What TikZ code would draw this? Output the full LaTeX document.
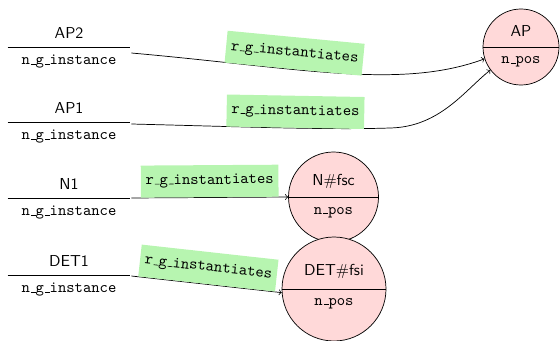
\documentclass[tikz,border=0pt]{standalone}
\usetikzlibrary{shapes.multipart,calc}
\definecolor{lblgreen}{RGB}{183,245,176}
\definecolor{posfill}{RGB}{255,217,217}
\newcommand\pxu{0.63pt}
\newcommand\usc{\leavevmode\kern.06em\vbox{\hrule width.3em}}
\begin{document}
\begin{tikzpicture}[x=\pxu,y=-\pxu,line width=0.45pt,
  inst/.style={rectangle split, rectangle split parts=2, anchor=text split,
    minimum width=122*\pxu, inner xsep=0pt, inner ysep=5pt, font=\sffamily, align=center},
  posnode/.style={circle, draw, fill=posfill, inner sep=0pt},
  ctop/.style={anchor=base, font=\sffamily, inner sep=0pt},
  cbot/.style={anchor=base, font=\ttfamily, inner sep=0pt},
  lbl/.style={fill=lblgreen, font=\ttfamily, inner xsep=3pt, inner ysep=0pt,
    minimum height=32*\pxu, sloped, above},
  arr/.style={->}]
\useasboundingbox (0,0) rectangle (560,340);

% instance nodes
\node[inst] (ap2) at (69,47) {AP2\nodepart{two}\texttt{n\usc g\usc instance}};
\node[inst] (ap1) at (69,122) {AP1\nodepart{two}\texttt{n\usc g\usc instance}};
\node[inst] (n1) at (69,198) {N1\nodepart{two}\texttt{n\usc g\usc instance}};
\node[inst] (det1) at (69,275) {DET1\nodepart{two}\texttt{n\usc g\usc instance}};
\foreach \n in {ap2,ap1,n1,det1}{
  \draw (\n.text split west) -- (\n.text split east);
}

% pos nodes
\node[posnode, minimum size=76*\pxu] (ap) at (521,47) {};
\draw (ap.west) -- (ap.east);
\node[ctop] (apt) at (521,37) {AP};
\node[cbot] (apb) at (521,64) {n\usc pos};

\node[posnode, minimum size=90*\pxu] (nfsc) at (333.5,197) {};
\draw (nfsc.west) -- (nfsc.east);
\node[ctop] (nfsct) at (333.5,185) {N\#fsc};
\node[cbot] (nfscb) at (333.5,214) {n\usc pos};

\node[posnode, minimum size=104*\pxu] (detfsi) at (334,289) {};
\draw (detfsi.west) -- (detfsi.east);
\node[ctop] (detfsit) at (334,275) {DET\#fsi};
\node[cbot] (detfsib) at (334,305) {n\usc pos};

% edges
\draw[arr] ($(ap2.text split east)+(1,6)$) .. controls (300,68) and (400,90) .. (ap.198)
  node[lbl, pos=0.37] {r\usc g\usc instantiates};
\draw[arr] ($(ap1.text split east)+(1,2)$) .. controls (250,127) and (330,130) .. (390,128)
  node[lbl, pos=0.55] {r\usc g\usc instantiates}
  .. controls (440,127) and (465,90) .. (ap.217);
\draw[arr] ($(n1.text split east)+(1,0)$) -- (nfsc.west)
  node[lbl, midway] {r\usc g\usc instantiates};
\draw[arr] ($(det1.text split east)+(1,1)$) -- (detfsi.184)
  node[lbl, midway] {r\usc g\usc instantiates};
\end{tikzpicture}
\end{document}
